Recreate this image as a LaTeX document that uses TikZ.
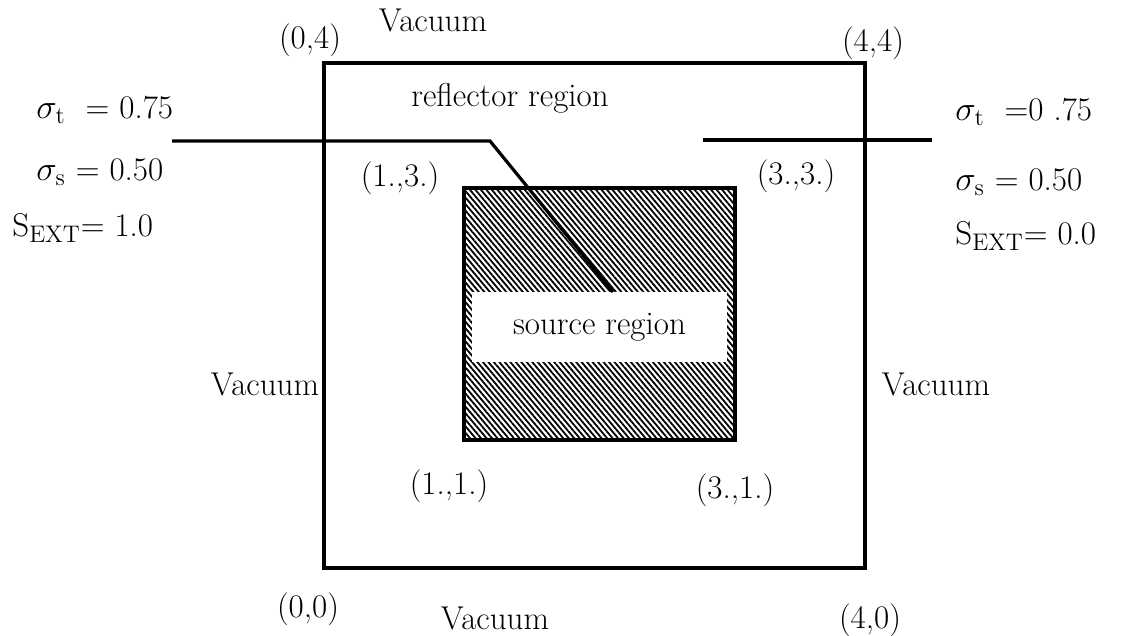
\documentclass[tikz,border=0pt]{standalone}
\usetikzlibrary{patterns.meta}
\tikzset{
  region/.style={line width=1.8pt},
  leader/.style={line width=1.6pt},
  lbl/.style={font=\fontsize{16.5}{19}\selectfont, inner sep=1pt},
  prop/.style={lbl, anchor=west},
}
\begin{document}
\begin{tikzpicture}[x=0.5pt,y=-0.5pt]
	\useasboundingbox (0,0) rectangle (1124,636);
	
	% Reflector region
	\draw[region] (324,63) rectangle (865,568);
	
	% Source region
	\draw[region, pattern={Lines[angle=-50,distance=2.1pt,line width=0.9pt]}] (464,188) rectangle (735,440);
	\node[lbl, fill=white, minimum width=127.5pt, minimum height=35pt] (src) at (599.5,327) {source region};
	\node[lbl] (refl) at (510,98) {reflector region};
	
	% Corner coordinates
	\node[lbl] (c04) at (310,40) {(0,4)};
	\node[lbl] (c44) at (873,43) {(4,4)};
	\node[lbl] (c00) at (308,609) {(0,0)};
	\node[lbl] (c40) at (870,620) {(4,0)};
	\node[lbl] (c13) at (400,178) {(1.,3.)};
	\node[lbl] (c33) at (796,176) {(3.,3.)};
	\node[lbl] (c11) at (449,486) {(1.,1.)};
	\node[lbl] (c31) at (735,490) {(3.,1.)};
	
	% Boundaries
	\node[lbl] (vtop) at (433,20) {Vacuum};
	\node[lbl] (vbot) at (495,618) {Vacuum};
	\node[lbl] (vleft) at (265,384) {Vacuum};
	\node[lbl] (vright) at (936,384) {Vacuum};
	
	% Material data, reflector
	\node[prop] (lsigt) at (34,110) {$\sigma_{\mathrm{t}}$ \ = 0.75};
	\node[prop] (lsigs) at (34,172) {$\sigma_{\mathrm{s}}$ = 0.50};
	\node[prop] (lsext) at (10,228) {S$_{\mathrm{EXT}}$= 1.0};
	
	% Material data, source
	\node[prop] (rsigt) at (953,112) {$\sigma_{\mathrm{t}}$ \ =0 .75};
	\node[prop] (rsigs) at (953,182) {$\sigma_{\mathrm{s}}$ = 0.50};
	\node[prop] (rsext) at (953,236) {S$_{\mathrm{EXT}}$= 0.0};
	
	% Leaders
	\coordinate (lfree) at (172,141);
	\coordinate (lknee) at (490,141);
	\coordinate (lend) at (613,292);
	\draw[leader] (lfree) -- (lknee) -- (lend);
	
	\coordinate (rfree) at (932,140);
	\coordinate (rend) at (703,140);
	\draw[leader] (rfree) -- (rend);
\end{tikzpicture}
\end{document}
